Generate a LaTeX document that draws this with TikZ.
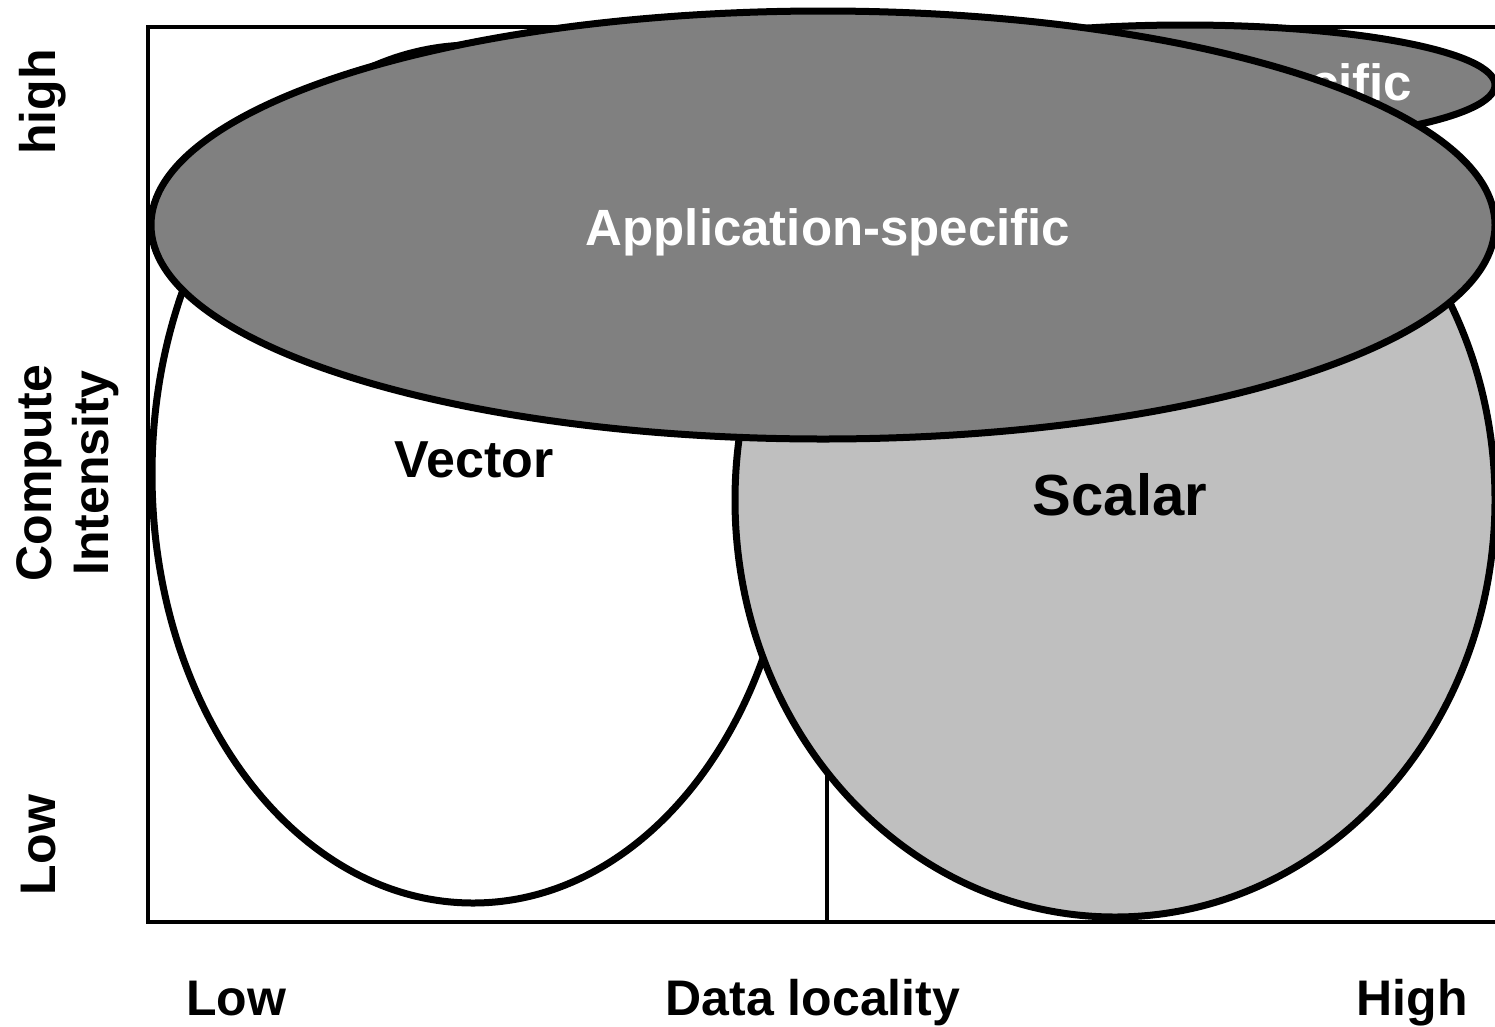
\documentclass[tikz,border=0pt]{standalone}
\usepackage{fontspec}
\setmainfont{Liberation Sans}
\usetikzlibrary{shapes.geometric}
\definecolor{appgray}{gray}{0.5}
\definecolor{scalargray}{gray}{0.75}
\tikzset{
  region/.style={ellipse,draw,line width=7pt,inner sep=0pt},
  axisline/.style={line width=3.5pt},
  lbl/.style={anchor=base,font=\fontsize{#1}{57}\selectfont\bfseries},
  lbl/.default=50
}
\begin{document}
\begin{tikzpicture}[x=1pt,y=1pt]
            \useasboundingbox (0,0) rectangle (1495,-1026);
            \clip (0,0) rectangle (1495,-1026);
            \draw[axisline] (148,-27) rectangle (1530,-922);
            \coordinate (midlow) at (827,-922);
            \coordinate (midtop) at (827,-700);
            \draw[axisline] (midlow) -- (midtop);
            % regions
            \node[region,fill=white,minimum width=642pt,minimum height=858pt] (vector) at (473,-474) {};
            \node[region,fill=scalargray,minimum width=760pt,minimum height=834pt] (scalar) at (1115,-500) {};
            \node[region,fill=appgray,minimum width=620pt,minimum height=120pt] (appback) at (1185,-85) {};
            \node[lbl=51,text=white] (appbacklbl) at (1170,-100) {Application-specific};
            \node[region,fill=appgray,minimum width=1344pt,minimum height=428pt] (app) at (823,-225) {};
            \node[lbl=51,text=white] (applbl) at (828,-245) {Application-specific};
            \node[lbl=52] (vectorlbl) at (474,-477) {Vector};
            \node[lbl=58] (scalarlbl) at (1120,-515) {Scalar};
            % axes
            \node[lbl] (xlow) at (236,-1015) {Low};
            \node[lbl] (xname) at (813,-1015) {Data locality};
            \node[lbl] (xhigh) at (1412,-1015) {High};
            \node[lbl,rotate=90] (yhigh) at (55,-102) {high};
            \node[lbl,rotate=90,align=center] (yname) at (108,-473) {Compute\\Intensity};
            \node[lbl,rotate=90] (ylow) at (55,-845) {Low};
\end{tikzpicture}
\end{document}
